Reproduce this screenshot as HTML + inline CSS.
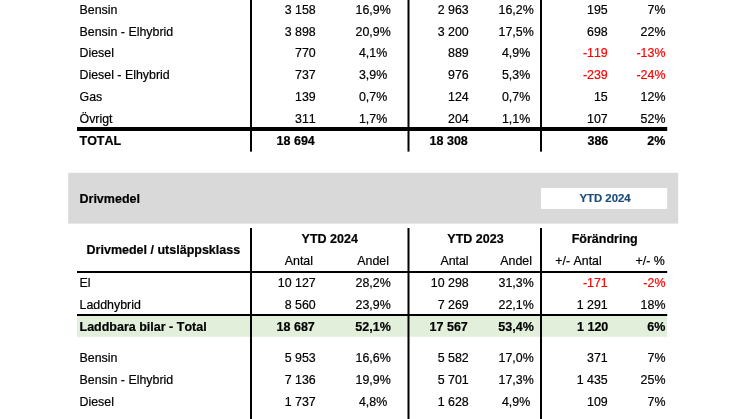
<!DOCTYPE html>
<html><head><meta charset="utf-8">
<style>
html,body{margin:0;padding:0;background:#fff;}
body{width:746px;height:419px;overflow:hidden;position:relative;font-family:"Liberation Sans",Arial,sans-serif;font-size:12.4px;color:#000;font-kerning:none;}
svg{position:absolute;left:0;top:0;}
.r{position:absolute;left:0;width:746px;height:22px;line-height:22px;white-space:nowrap;}
.r span{position:absolute;top:0;-webkit-text-stroke:0.2px currentColor;}
.l{left:79.5px;}
.a1{right:430.3px;}
.d1{left:313.1px;width:120px;text-align:center;}
.a2{right:277.3px;}
.d2{left:456.1px;width:120px;text-align:center;}
.a3{right:138.3px;}
.d3{right:80.6px;}
.b{font-weight:bold;font-size:12.5px;}
.b .a1{right:431.2px;}
.b .a2{right:278.2px;}
.b .a3{right:137.7px;}
.red{color:#ff0000;}
</style></head><body>
<svg width="746" height="419" viewBox="0 0 746 419">
<rect x="68.2" y="172.8" width="610" height="50.8" fill="#d9d9d9"/>
<rect x="541" y="188" width="126.2" height="20.9" fill="#ffffff"/>
<rect x="77" y="316" width="590.2" height="20.8" fill="#e2efda"/>
<g fill="#000">
<rect x="250" y="0" width="2" height="151.6"/>
<rect x="407.5" y="0" width="2" height="151.6"/>
<rect x="540" y="0" width="2" height="151.6"/>
<rect x="250" y="228" width="2" height="191"/>
<rect x="407.5" y="228" width="2" height="191"/>
<rect x="540" y="228" width="2" height="191"/>
<rect x="77" y="127" width="590.2" height="4"/>
<rect x="77" y="271" width="590.2" height="2"/>
<rect x="77" y="314" width="590.2" height="2"/>
</g>
</svg>
<div class="r b" style="top:188px"><span style="left:79.5px">Drivmedel</span><span style="left:545.05px;width:120px;text-align:center;color:#1f4e79;font-size:11.4px;top:-1px">YTD 2024</span></div>
<!-- table 1 -->
<div class="r" style="top:-1px"><span class="l">Bensin</span><span class="a1">3 158</span><span class="d1">16,9%</span><span class="a2">2 963</span><span class="d2">16,2%</span><span class="a3">195</span><span class="d3">7%</span></div>
<div class="r" style="top:21px"><span class="l">Bensin - Elhybrid</span><span class="a1">3 898</span><span class="d1">20,9%</span><span class="a2">3 200</span><span class="d2">17,5%</span><span class="a3">698</span><span class="d3">22%</span></div>
<div class="r" style="top:42px"><span class="l">Diesel</span><span class="a1">770</span><span class="d1">4,1%</span><span class="a2">889</span><span class="d2">4,9%</span><span class="a3 red">-119</span><span class="d3 red">-13%</span></div>
<div class="r" style="top:64px"><span class="l">Diesel - Elhybrid</span><span class="a1">737</span><span class="d1">3,9%</span><span class="a2">976</span><span class="d2">5,3%</span><span class="a3 red">-239</span><span class="d3 red">-24%</span></div>
<div class="r" style="top:86px"><span class="l">Gas</span><span class="a1">139</span><span class="d1">0,7%</span><span class="a2">124</span><span class="d2">0,7%</span><span class="a3">15</span><span class="d3">12%</span></div>
<div class="r" style="top:108px"><span class="l">Övrigt</span><span class="a1">311</span><span class="d1">1,7%</span><span class="a2">204</span><span class="d2">1,1%</span><span class="a3">107</span><span class="d3">52%</span></div>
<div class="r b" style="top:130px"><span class="l">TOTAL</span><span class="a1">18 694</span><span class="a2">18 308</span><span class="a3">386</span><span class="d3">2%</span></div>
<!-- table 2 header -->
<div class="r b" style="top:239px"><span style="left:86.6px">Drivmedel / utsläppsklass</span></div>
<div class="r b" style="top:228px"><span style="left:269.7px;width:120px;text-align:center">YTD 2024</span><span style="left:415.5px;width:120px;text-align:center">YTD 2023</span><span style="left:544.7px;width:120px;text-align:center">Förändring</span></div>
<div class="r" style="top:250px"><span style="left:238.9px;width:120px;text-align:center">Antal</span><span class="d1">Andel</span><span style="left:394.5px;width:120px;text-align:center">Antal</span><span class="d2">Andel</span><span style="left:518.5px;width:120px;text-align:center">+/- Antal</span><span style="left:590.1px;width:120px;text-align:center">+/- %</span></div>
<!-- table 2 rows -->
<div class="r" style="top:272px"><span class="l">El</span><span class="a1">10 127</span><span class="d1">28,2%</span><span class="a2">10 298</span><span class="d2">31,3%</span><span class="a3 red">-171</span><span class="d3 red">-2%</span></div>
<div class="r" style="top:294px"><span class="l">Laddhybrid</span><span class="a1">8 560</span><span class="d1">23,9%</span><span class="a2">7 269</span><span class="d2">22,1%</span><span class="a3">1 291</span><span class="d3">18%</span></div>
<div class="r b" style="top:316px"><span class="l">Laddbara bilar - Total</span><span class="a1">18 687</span><span class="d1">52,1%</span><span class="a2">17 567</span><span class="d2">53,4%</span><span class="a3">1 120</span><span class="d3">6%</span></div>
<div class="r" style="top:347px"><span class="l">Bensin</span><span class="a1">5 953</span><span class="d1">16,6%</span><span class="a2">5 582</span><span class="d2">17,0%</span><span class="a3">371</span><span class="d3">7%</span></div>
<div class="r" style="top:369px"><span class="l">Bensin - Elhybrid</span><span class="a1">7 136</span><span class="d1">19,9%</span><span class="a2">5 701</span><span class="d2">17,3%</span><span class="a3">1 435</span><span class="d3">25%</span></div>
<div class="r" style="top:391px"><span class="l">Diesel</span><span class="a1">1 737</span><span class="d1">4,8%</span><span class="a2">1 628</span><span class="d2">4,9%</span><span class="a3">109</span><span class="d3">7%</span></div>
</body></html>
